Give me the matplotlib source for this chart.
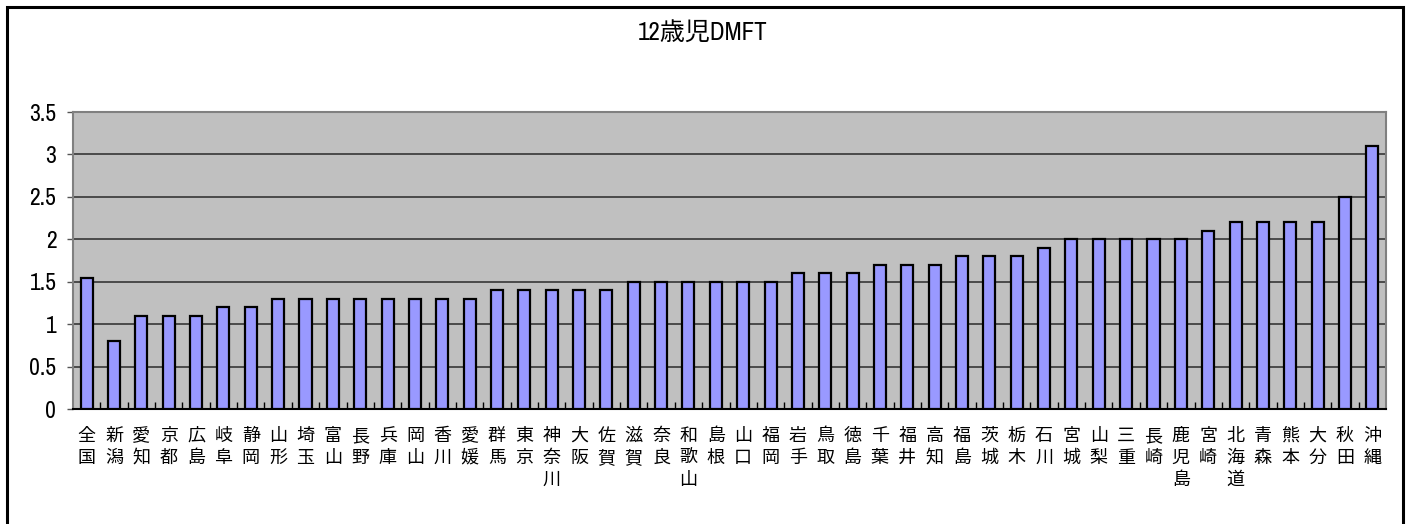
import matplotlib
matplotlib.use('Agg')
import matplotlib.pyplot as plt
from matplotlib import font_manager
from matplotlib.patches import Rectangle
from matplotlib.ticker import MultipleLocator, FixedLocator, FuncFormatter

plt.rcParams['font.family'] = ['Noto Sans CJK JP', 'DejaVu Sans']

# 都道府県（DMFT の低い順）
prefs = ['全国', '新潟', '愛知', '京都', '広島', '岐阜', '静岡', '山形', '埼玉', '富山',
         '長野', '兵庫', '岡山', '香川', '愛媛', '群馬', '東京', '神奈川', '大阪', '佐賀',
         '滋賀', '奈良', '和歌山', '島根', '山口', '福岡', '岩手', '鳥取', '徳島', '千葉',
         '福井', '高知', '福島', '茨城', '栃木', '石川', '宮城', '山梨', '三重', '長崎',
         '鹿児島', '宮崎', '北海道', '青森', '熊本', '大分', '秋田', '沖縄']
dmft = [1.54, 0.8, 1.1, 1.1, 1.1, 1.2, 1.2, 1.3, 1.3, 1.3,
        1.3, 1.3, 1.3, 1.3, 1.3, 1.4, 1.4, 1.4, 1.4, 1.4,
        1.5, 1.5, 1.5, 1.5, 1.5, 1.5, 1.6, 1.6, 1.6, 1.7,
        1.7, 1.7, 1.8, 1.8, 1.8, 1.9, 2.0, 2.0, 2.0, 2.0,
        2.0, 2.1, 2.2, 2.2, 2.2, 2.2, 2.5, 3.1]
title = '12歳児DMFT'

# 細い数字用のフォント（無ければ DejaVu）
installed = {f.name for f in font_manager.fontManager.ttflist}
narrow = 'DejaVu Sans'
for name in ['Liberation Sans Narrow', 'Archivo Narrow']:
    if name in installed:
        narrow = name
        break

W, H = 1410, 524
fig = plt.figure(figsize=(W / 100, H / 100), dpi=100)

# 外枠（下辺は画像の外）
fig.add_artist(Rectangle((6.5 / W, -0.05), (1403 - 6.5) / W, 1 - 6.5 / H + 0.05,
                         transform=fig.transFigure, fill=False, edgecolor='black',
                         linewidth=2.2, zorder=10))

ax = fig.add_axes([73 / W, 1 - 409 / H, (1386 - 73) / W, (409 - 112) / H])
ax.set_facecolor('#c0c0c0')

x = list(range(len(prefs)))
ax.bar(x, dmft, width=0.44, color='#9999ff', edgecolor='black', linewidth=1.6, zorder=3)

ax.set_xlim(-0.5, len(prefs) - 0.5)
ax.set_ylim(0, 3.5)
ax.yaxis.set_major_locator(MultipleLocator(0.5))
ax.yaxis.set_major_formatter(FuncFormatter(lambda v, p: '%g' % v))
ax.grid(axis='y', color='#2a2a2a', linewidth=1.1, zorder=1)

# 縦書きの目盛ラベル
ax.set_xticks(x)
ax.set_xticklabels(['\n'.join(p) for p in prefs], fontsize=13, linespacing=1.27,
                   va='top')
ax.tick_params(axis='x', which='major', length=0, pad=13)
ax.xaxis.set_minor_locator(FixedLocator([i + 0.5 for i in range(len(prefs) - 1)]))
ax.tick_params(axis='x', which='minor', direction='in', length=5, width=1, color='black')
ax.tick_params(axis='y', direction='out', length=4, width=1, color='#555555', pad=8,
               labelsize=17)
for lab in ax.get_yticklabels():
    lab.set_family(narrow)

for side in ['top', 'right', 'left']:
    ax.spines[side].set_color('#808080')
    ax.spines[side].set_linewidth(1.5)
ax.spines['bottom'].set_color('black')
ax.spines['bottom'].set_linewidth(1.5)

fig.text(703 / W, 1 - 33 / H, title, ha='center', va='center', fontsize=18,
         family=[narrow, 'Noto Sans CJK JP'])

fig.savefig('out.png', dpi=100)
